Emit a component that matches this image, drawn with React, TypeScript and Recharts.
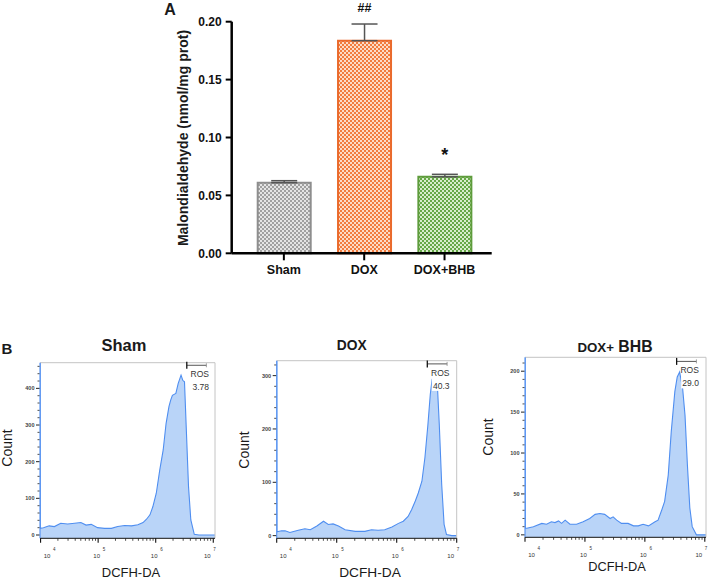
import React from "react";
import {
  BarChart,
  Bar,
  Cell,
  XAxis,
  YAxis,
  ErrorBar,
  LabelList,
  AreaChart,
  Area,
  ReferenceLine,
} from "recharts";

const FONT = '"Liberation Sans", Arial, Helvetica, sans-serif';

// ---- panel A: malondialdehyde ----
const groups = ["Sham", "DOX", "DOX+BHB"];
const mdaMean = [0.061, 0.1836, 0.0661];
const mdaSem = [0.0017, 0.0144, 0.0021];
const sigMarks = ["", "##", "*"];
const mdaTicks = [0, 0.05, 0.1, 0.15, 0.2];

const barStyles = [
  { id: "chkGray", edge: "#8e8e8e", dark: "#a0a0a0", light: "#e4e4e4" },
  { id: "chkOrange", edge: "#ea6a2c", dark: "#f27c3e", light: "#fcdcc8" },
  { id: "chkGreen", edge: "#5e9c3c", dark: "#66a847", light: "#d8edcc" },
];

// ---- panel B: DCFH-DA histograms (x = log10 intensity) ----
const shamLogX = [3.99, 3.995, 4.05, 4.15, 4.24, 4.35, 4.47, 4.59, 4.7, 4.79, 4.88, 4.99, 5.11, 5.23, 5.34, 5.46, 5.58, 5.69, 5.78, 5.84, 5.9, 5.95, 6.01, 6.07, 6.13, 6.18, 6.23, 6.26, 6.29, 6.35, 6.39, 6.44, 6.47, 6.5, 6.53, 6.57, 6.61, 6.67, 6.75, 6.9, 7.03];
const shamCount = [900, 18, 20, 25, 23, 32, 30, 32, 34, 27, 29, 20, 18, 18, 23, 26, 25, 28, 34, 43, 55, 77, 114, 177, 232, 304, 350, 368, 381, 386, 413, 436, 422, 418, 295, 132, 41, 2, 0, 0, 0];

const doxLogX = [4.0, 4.005, 4.08, 4.14, 4.22, 4.36, 4.47, 4.56, 4.67, 4.78, 4.86, 4.94, 5.03, 5.14, 5.31, 5.47, 5.58, 5.69, 5.8, 5.92, 6.03, 6.11, 6.19, 6.25, 6.31, 6.36, 6.42, 6.47, 6.52, 6.56, 6.59, 6.64, 6.68, 6.71, 6.75, 6.79, 6.83, 6.92, 7.0];
const doxCount = [700, 7, 9, 9, 6, 10, 13, 11, 18, 27, 21, 22, 18, 11, 8, 8, 11, 10, 11, 16, 23, 27, 36, 49, 65, 80, 102, 146, 208, 265, 293, 303, 277, 208, 96, 21, 2, 0, 0];

const bhbLogX = [4.0, 4.005, 4.03, 4.14, 4.28, 4.36, 4.44, 4.5, 4.56, 4.61, 4.67, 4.75, 4.86, 4.97, 5.08, 5.17, 5.25, 5.33, 5.42, 5.47, 5.53, 5.61, 5.72, 5.81, 5.89, 5.97, 6.06, 6.17, 6.22, 6.28, 6.33, 6.39, 6.44, 6.5, 6.54, 6.58, 6.63, 6.67, 6.71, 6.75, 6.79, 6.86, 7.02];
const bhbCount = [500, 8, 8, 10, 14, 13, 16, 15, 17, 14, 18, 13, 13, 16, 20, 25, 26, 25, 20, 22, 18, 14, 14, 11, 11, 13, 11, 16, 18, 30, 41, 73, 126, 175, 193, 199, 179, 146, 85, 33, 10, 0, 0];

const shamYLabels = [0, 100, 200, 300, 400];
const shamYMinor = [20, 40, 60, 80, 120, 140, 160, 180, 220, 240, 260, 280, 320, 340, 360, 380, 420, 440, 460];
const doxYLabels = [0, 100, 200, 300];
const doxYMinor = [20, 40, 60, 80, 120, 140, 160, 180, 220, 240, 260, 280, 320];
const bhbYLabels = [0, 50, 100, 150, 200];
const bhbYMinor = [10, 20, 30, 40, 60, 70, 80, 90, 110, 120, 130, 140, 160, 170, 180, 190, 210];

const rosPct = ["3.78", "40.3", "29.0"];

const CURVE = "#4f8ef0";

const logTicks = ([lo, hi]: [number, number]) => {
  const out: number[] = [];
  for (let d = 3; d <= 7; d++) {
    for (let k = 1; k <= 9; k++) {
      const v = d + Math.log10(k);
      if (v >= lo - 1e-9 && v <= hi + 1e-9) out.push(v);
    }
  }
  return out;
};

const Txt = ({ x, y, size, bold, rotate, children }: any) => (
  <div
    style={{
      position: "absolute",
      left: x,
      top: y,
      transform: `translate(-50%, -50%)${rotate ? " rotate(-90deg)" : ""}`,
      fontSize: size,
      fontWeight: bold ? 700 : 400,
      whiteSpace: "nowrap",
      lineHeight: 1,
      color: "#1a1a1a",
      fontFamily: FONT,
    }}
  >
    {children}
  </div>
);

const MarkLabel = (props: any) => {
  const { x, y, width, value } = props;
  if (!value) return null;
  const star = value === "*";
  return (
    <text
      x={x + width / 2}
      y={star ? y - 16 : y - 29}
      textAnchor="middle"
      fontSize={star ? 18 : 12.5}
      fontWeight={700}
      fill="#111"
      fontFamily={FONT}
    >
      {value}
    </text>
  );
};

const LogXTick = (props: any) => {
  const { x, y, payload, lo, hi } = props;
  const v = payload.value as number;
  const exp = Math.round(v);
  if (Math.abs(v - exp) > 1e-6) {
    return <line x1={x} x2={x} y1={y} y2={y + 2.5} stroke="#222" strokeWidth={0.8} />;
  }
  const shift = exp - lo < 0.1 ? 6.5 : hi - exp < 0.1 ? -6 : -1.5;
  return (
    <g>
      <line x1={x} x2={x} y1={y} y2={y + 4.5} stroke="#111" strokeWidth={1.1} />
      <text x={x + shift} y={y + 20} textAnchor="middle" fontSize={6} fill="#333" fontFamily={FONT}>
        10
      </text>
      <text x={x + shift + 7.3} y={y + 12.8} textAnchor="middle" fontSize={4.5} fill="#333" fontFamily={FONT}>
        {exp}
      </text>
    </g>
  );
};

const CountTick = (props: any) => {
  const { x, y, payload, labels } = props;
  const v = payload.value as number;
  const major = labels.includes(v);
  return (
    <g>
      <line x1={x - 0.5} x2={x - (major ? 4 : 2.5)} y1={y} y2={y} stroke="#222" strokeWidth={major ? 1 : 0.8} />
      {major && (
        <text x={x - 5.5} y={y} dy="0.35em" textAnchor="end" fontSize={5.5} fontWeight={700} fill="#444" fontFamily={FONT}>
          {v}
        </text>
      )}
    </g>
  );
};

const GateLabel = (props: any) => {
  const { viewBox, pct } = props;
  const { x, y, width } = viewBox;
  return (
    <g fontFamily={FONT}>
      <rect x={x + 4.5} y={y + 3} width={width - 1} height={24} fill="#fff" />
      <line x1={x} x2={x} y1={y - 3.5} y2={y + 3.5} stroke="#111" strokeWidth={1.3} />
      <line x1={x + width} x2={x + width} y1={y - 2} y2={y + 2} stroke="#888" strokeWidth={0.8} />
      <text x={x + 13} y={y + 9} dy="0.35em" textAnchor="middle" fontSize={8.5} fill="#333">
        ROS
      </text>
      <text x={x + 14} y={y + 22} dy="0.35em" textAnchor="middle" fontSize={8.5} fill="#333">
        {pct}
      </text>
    </g>
  );
};

type HistSpec = {
  logX: number[];
  count: number[];
  xDomain: [number, number];
  yDomain: [number, number];
  yLabels: number[];
  yMinor: number[];
  gateX: [number, number];
  gateY: number;
  pct: string;
  left: number;
  top: number;
  width: number;
  height: number;
  margin: { top: number; right: number; bottom: number; left: number };
};

const Histogram = ({ s }: { s: HistSpec }) => {
  const rows = s.logX.map((x, i) => ({ x, n: s.count[i] }));
  const yTicks = [...s.yLabels, ...s.yMinor].sort((a, b) => a - b);
  const m = { ...s.margin, bottom: s.margin.bottom - 1, left: s.margin.left - 1 };
  return (
    <div style={{ position: "absolute", left: s.left, top: s.top }}>
      <AreaChart width={s.width} height={s.height} data={rows} margin={m}>
        <XAxis
          dataKey="x"
          type="number"
          domain={s.xDomain}
          allowDataOverflow
          ticks={logTicks(s.xDomain)}
          interval={0}
          height={1}
          tickSize={0}
          tickMargin={0}
          tickLine={false}
          axisLine={{ stroke: "#111", strokeWidth: 1 }}
          tick={<LogXTick lo={s.xDomain[0]} hi={s.xDomain[1]} />}
        />
        <YAxis
          type="number"
          domain={s.yDomain}
          allowDataOverflow
          ticks={yTicks}
          interval={0}
          width={1}
          tickSize={0}
          tickMargin={0}
          tickLine={false}
          axisLine={{ stroke: CURVE, strokeWidth: 1.1 }}
          tick={<CountTick labels={s.yLabels} />}
        />
        <ReferenceLine y={s.yDomain[1]} stroke="#c4c4c4" />
        <ReferenceLine x={s.xDomain[1]} stroke="#c4c4c4" />
        <Area
          type="linear"
          dataKey="n"
          stroke={CURVE}
          strokeWidth={1.1}
          fill="#b9d4f8"
          fillOpacity={1}
          baseValue={s.yDomain[0]}
          dot={false}
          activeDot={false}
          isAnimationActive={false}
        />
        <ReferenceLine
          segment={[
            { x: s.gateX[0], y: s.gateY },
            { x: s.gateX[1], y: s.gateY },
          ]}
          stroke="#555"
          strokeWidth={1}
          label={(p: any) => <GateLabel {...p} pct={s.pct} />}
        />
      </AreaChart>
    </div>
  );
};

const hists: HistSpec[] = [
  {
    logX: shamLogX, count: shamCount, xDomain: [3.99, 7.03], yDomain: [-9, 470],
    yLabels: shamYLabels, yMinor: shamYMinor, gateX: [6.54, 6.88], gateY: 463, pct: rosPct[0],
    left: 0, top: 330, width: 232, height: 250, margin: { top: 32.7, right: 17, bottom: 41.7, left: 40 },
  },
  {
    logX: doxLogX, count: doxCount, xDomain: [4.0, 7.0], yDomain: [-5, 328],
    yLabels: doxYLabels, yMinor: doxYMinor, gateX: [6.51, 6.84], gateY: 322, pct: rosPct[1],
    left: 235, top: 330, width: 240, height: 250, margin: { top: 30.7, right: 18.3, bottom: 41.7, left: 41.7 },
  },
  {
    logX: bhbLogX, count: bhbCount, xDomain: [4.0, 7.02], yDomain: [-3, 217],
    yLabels: bhbYLabels, yMinor: bhbYMinor, gateX: [6.53, 6.86], gateY: 212, pct: rosPct[2],
    left: 470, top: 330, width: 238, height: 250, margin: { top: 27.3, right: 2, bottom: 42.7, left: 55 },
  },
];

export default function App() {
  const mdaRows = groups.map((g, i) => ({
    group: g,
    mean: mdaMean[i],
    err: [0, mdaSem[i]],
    mark: sigMarks[i],
  }));

  return (
    <div style={{ position: "absolute", left: 0, top: 0, width: 708, height: 580, background: "#fff", fontFamily: FONT, overflow: "hidden" }}>
      <div style={{ position: "absolute", left: 150, top: 0 }}>
        <BarChart width={360} height={290} data={mdaRows} margin={{ top: 21.7, right: 18.3, bottom: 35.7, left: 80.7 }} barCategoryGap={0}>
          <defs>
            {barStyles.map((b) => (
              <pattern key={b.id} id={b.id} width={4} height={4} patternUnits="userSpaceOnUse">
                <rect width={4} height={4} fill={b.light} />
                <rect width={2} height={2} fill={b.dark} />
                <rect x={2} y={2} width={2} height={2} fill={b.dark} />
              </pattern>
            ))}
          </defs>
          <XAxis
            dataKey="group"
            height={1}
            padding={{ left: 12, right: 7 }}
            axisLine={{ stroke: "#000", strokeWidth: 2.5 }}
            tickLine={{ stroke: "#000", strokeWidth: 2 }}
            tickSize={7}
            tickMargin={5}
            tick={{ fill: "#111", fontSize: 12.5, fontWeight: 700, fontFamily: FONT }}
            interval={0}
          />
          <YAxis
            type="number"
            domain={[0, 0.2]}
            ticks={mdaTicks}
            width={1}
            tickFormatter={(v: number) => v.toFixed(2)}
            axisLine={{ stroke: "#000", strokeWidth: 2.5 }}
            tickLine={{ stroke: "#000", strokeWidth: 2 }}
            tickSize={6}
            tickMargin={4}
            tick={{ fill: "#111", fontSize: 12, fontWeight: 700, fontFamily: FONT }}
            interval={0}
          />
          <Bar dataKey="mean" barSize={53} strokeWidth={2} isAnimationActive={false}>
            {mdaRows.map((r, i) => (
              <Cell key={r.group} fill={`url(#${barStyles[i].id})`} stroke={barStyles[i].edge} />
            ))}
            <ErrorBar dataKey="err" width={13} stroke="#555" strokeWidth={1.5} direction="y" />
            <LabelList dataKey="mark" content={<MarkLabel />} />
          </Bar>
        </BarChart>
      </div>

      <Txt x={170} y={10} size={16} bold>A</Txt>
      <Txt x={183} y={137.5} size={14} bold rotate>Malondialdehyde (nmol/mg prot)</Txt>

      {hists.map((s) => (
        <Histogram key={s.pct} s={s} />
      ))}

      <Txt x={7} y={347.5} size={15} bold>B</Txt>
      <Txt x={124} y={345} size={16.5} bold>Sham</Txt>
      <Txt x={351.7} y={346} size={13.8} bold>DOX</Txt>
      <Txt x={615} y={346.7} size={15.8} bold>
        <span style={{ fontSize: 13.3 }}>DOX+</span> BHB
      </Txt>

      <Txt x={7} y={448} size={14} rotate>Count</Txt>
      <Txt x={244.3} y={450} size={14} rotate>Count</Txt>
      <Txt x={488.3} y={436.7} size={14} rotate>Count</Txt>

      <Txt x={131} y={572} size={13}>DCFH-DA</Txt>
      <Txt x={370} y={573} size={13.7}>DCFH-DA</Txt>
      <Txt x={617} y={567} size={12.8}>DCFH-DA</Txt>
    </div>
  );
}
